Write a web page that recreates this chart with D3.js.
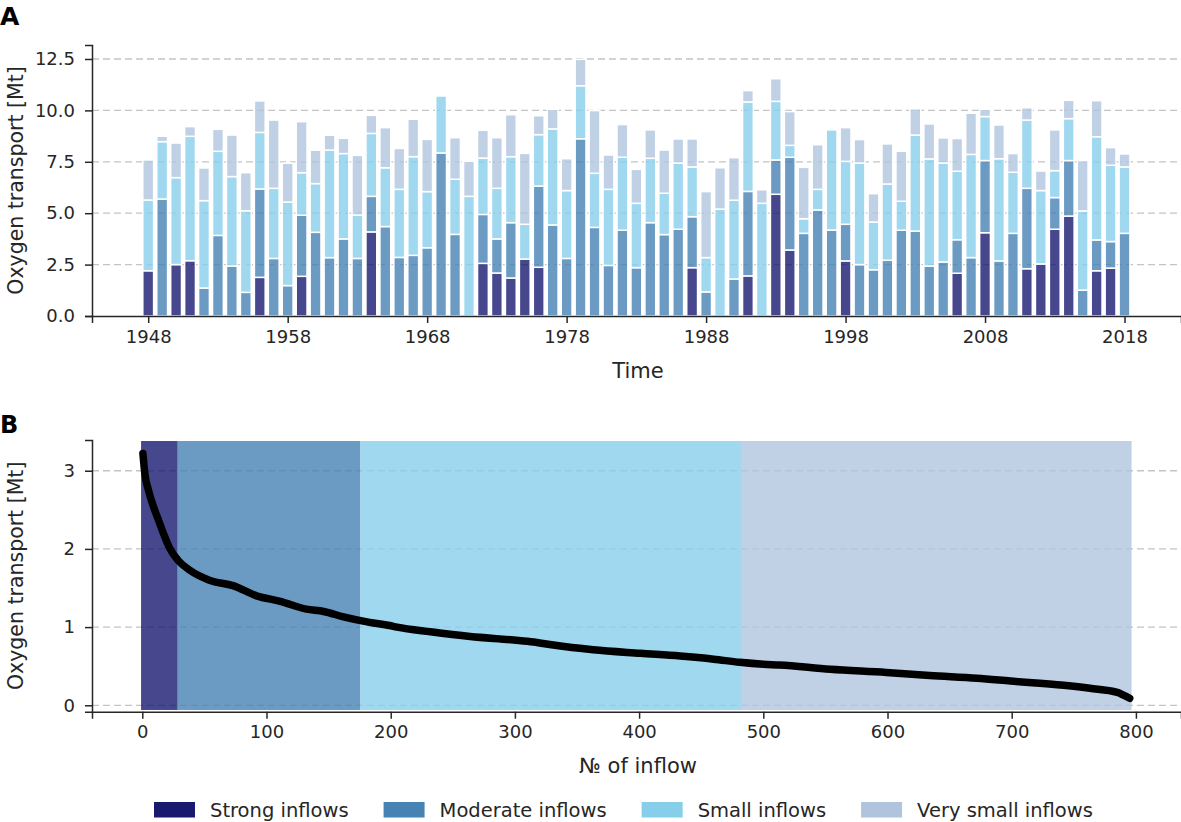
<!DOCTYPE html>
<html>
<head>
<meta charset="utf-8">
<script src="https://cdnjs.cloudflare.com/ajax/libs/d3/7.8.5/d3.min.js"></script>
<style>
  body { margin: 0; background: #fff; }
  svg { font-family: "DejaVu Sans", sans-serif; }
</style>
</head>
<body>
<div id="chart"></div>
<script>
// ---- data ----
var years = [1948, 1949, 1950, 1951, 1952, 1953, 1954, 1955, 1956, 1957,
             1958, 1959, 1960, 1961, 1962, 1963, 1964, 1965, 1966, 1967,
             1968, 1969, 1970, 1971, 1972, 1973, 1974, 1975, 1976, 1977,
             1978, 1979, 1980, 1981, 1982, 1983, 1984, 1985, 1986, 1987,
             1988, 1989, 1990, 1991, 1992, 1993, 1994, 1995, 1996, 1997,
             1998, 1999, 2000, 2001, 2002, 2003, 2004, 2005, 2006, 2007,
             2008, 2009, 2010, 2011, 2012, 2013, 2014, 2015, 2016, 2017,
             2018];

// oxygen transport [Mt] per year and inflow class
var strong   = [2.20, 0, 2.50, 2.69, 0, 0, 0, 0, 1.88, 0,
                0, 1.93, 0, 0, 0, 0, 4.09, 0, 0, 0,
                0, 0, 0, 0, 2.56, 2.09, 1.85, 2.77, 2.37, 0,
                0, 0, 0, 0, 0, 0, 0, 0, 0, 2.35,
                0, 0, 0, 1.95, 0, 5.92, 3.21, 0, 0, 0,
                2.68, 0, 0, 0, 0, 0, 0, 0, 2.08, 0,
                4.05, 0, 0, 2.30, 2.53, 4.22, 4.86, 0, 2.20, 2.33,
                0];
var moderate = [0, 5.69, 0, 0, 1.36, 3.92, 2.43, 1.15, 4.30, 2.80,
                1.48, 2.97, 4.07, 2.84, 3.75, 2.80, 1.73, 4.35, 2.85, 2.95,
                3.32, 7.93, 3.97, 0, 2.38, 1.66, 2.69, 0, 3.95, 4.43,
                2.80, 8.62, 4.31, 2.46, 4.17, 2.35, 4.54, 3.96, 4.22, 2.48,
                1.17, 0, 1.80, 4.11, 0, 1.67, 4.51, 4.02, 5.16, 4.18,
                1.78, 2.50, 2.25, 2.71, 4.17, 4.13, 2.43, 2.63, 1.63, 2.84,
                3.51, 2.68, 4.02, 3.91, 0, 1.54, 2.70, 1.26, 1.50, 1.29,
                4.02];
var small    = [3.44, 2.79, 4.23, 6.05, 4.25, 4.09, 4.35, 3.97, 2.75, 3.41,
                4.06, 2.07, 2.37, 5.23, 4.15, 2.11, 3.06, 2.86, 3.31, 4.80,
                2.73, 2.77, 2.68, 5.82, 2.74, 2.46, 3.21, 1.69, 2.50, 4.67,
                3.30, 2.58, 2.63, 3.70, 3.55, 3.13, 3.13, 2.01, 3.22, 2.42,
                1.67, 5.20, 3.83, 4.35, 5.48, 2.85, 0.58, 0.71, 1.00, 4.87,
                3.06, 4.94, 2.32, 3.71, 1.41, 4.67, 5.21, 4.81, 3.33, 5.02,
                2.14, 4.97, 2.97, 3.32, 3.57, 1.31, 2.04, 3.85, 5.02, 3.71,
                3.23];
var verySmall = [1.95, 0.26, 1.68, 0.47, 1.59, 1.07, 2.02, 1.85, 1.53, 3.32,
                 1.89, 2.48, 1.62, 0.72, 0.74, 2.90, 0.88, 1.95, 1.99, 1.82,
                 2.54, 0, 2.02, 1.70, 1.35, 2.46, 2.04, 3.45, 0.92, 0.95,
                 1.55, 1.28, 3.05, 1.67, 1.59, 1.65, 1.38, 2.10, 1.17, 1.36,
                 3.21, 2.01, 2.07, 0.55, 0.66, 1.10, 1.64, 2.50, 2.17, 0,
                 1.64, 1.14, 1.38, 1.95, 2.43, 1.28, 1.70, 1.22, 1.59, 2.00,
                 0.35, 1.64, 0.91, 0.60, 0.95, 1.98, 0.89, 2.45, 1.75, 0.86,
                 0.63];

// sorted single inflows (panel B)
var inflowRank   = [0.5, 2, 5, 9, 13, 17, 22, 29, 38, 54, 73, 92, 111, 132, 146, 162,
                    183, 199, 205, 232, 264, 299, 315, 331, 363, 401, 433, 460, 481,
                    500, 513, 554, 599, 634, 672, 699, 742, 763, 785, 790, 795];
var inflowOxygen = [3.22, 2.97, 2.75, 2.54, 2.37, 2.20, 2.01, 1.85, 1.73, 1.60, 1.53, 1.40,
                    1.33, 1.23, 1.20, 1.13, 1.06, 1.02, 1.00, 0.94, 0.88, 0.835, 0.81,
                    0.77, 0.71, 0.665, 0.63, 0.59, 0.55, 0.525, 0.515, 0.46, 0.42,
                    0.38, 0.345, 0.31, 0.255, 0.217, 0.166, 0.13, 0.09];

// class boundaries along the inflow number axis
var classEdges = [-1, 28.5, 175.5, 482, 796.5];

var classNames  = ["Strong inflows", "Moderate inflows", "Small inflows", "Very small inflows"];
var classKeys   = ["strong", "moderate", "small", "verySmall"];
var classColors = ["#191970", "#4682b4", "#87ceeb", "#b0c4de"];

var xTicksA = [1948, 1958, 1968, 1978, 1988, 1998, 2008, 2018];
var yTicksA = [0, 2.5, 5, 7.5, 10, 12.5];
var xTicksB = [0, 100, 200, 300, 400, 500, 600, 700, 800];
var yTicksB = [0, 1, 2, 3];

// ---- layout ----
var W = 1181, H = 822;
var panelA = {left: 92, right: 1181, top: 45, bottom: 316};
var panelB = {left: 92, right: 1181, top: 440, bottom: 711.7};
var ink = "#262626";
var font = "DejaVu Sans";

var svg = d3.select("#chart").append("svg")
    .attr("width", W)
    .attr("height", H)
    .attr("font-family", font);

// build table for the stack
var table = years.map(function(y, i) {
  return {year: y, strong: strong[i], moderate: moderate[i], small: small[i], verySmall: verySmall[i]};
});

var color = d3.scaleOrdinal().domain(classKeys).range(classColors);

function styleAxis(g) {
  g.attr("font-family", font).attr("font-size", 18);
  g.select(".domain").attr("stroke", ink).attr("stroke-width", 1.5);
  g.selectAll(".tick line").attr("stroke", ink).attr("stroke-width", 1.5);
  g.selectAll(".tick text").attr("fill", ink);
}

function grid(g, yScale, ticks, x0, x1) {
  g.selectAll("line")
    .data(ticks)
    .enter().append("line")
      .attr("x1", x0)
      .attr("x2", x1)
      .attr("y1", function(d) { return yScale(d); })
      .attr("y2", function(d) { return yScale(d); })
      .attr("stroke", "#c4c4c4")
      .attr("stroke-width", 1.3)
      .attr("stroke-dasharray", "7,4");
}

// ================= Panel A =================
var xA = d3.scaleLinear().domain([1943.97, 2022.05]).range([panelA.left, panelA.right]);
var yA = d3.scaleLinear().domain([0, 13.18]).range([panelA.bottom, panelA.top]);
var barW = (xA(1949) - xA(1948)) * 0.775;

grid(svg.append("g"), yA, yTicksA.slice(1), panelA.left, panelA.right);

var series = d3.stack().keys(classKeys)(table);

svg.append("g")
  .selectAll("g")
  .data(series)
  .enter().append("g")
    .attr("fill", function(d) { return color(d.key); })
    .attr("fill-opacity", 0.8)
  .selectAll("rect")
  .data(function(d) { return d.filter(function(p) { return p[1] - p[0] > 0; }); })
  .enter().append("rect")
    .attr("x", function(d) { return xA(d.data.year) - barW / 2; })
    .attr("width", barW)
    .attr("y", function(d) { return yA(d[1]); })
    .attr("height", function(d) { return yA(d[0]) - yA(d[1]); })
    .attr("stroke", "#fff")
    .attr("stroke-width", 1.5);

svg.append("g")
    .attr("transform", "translate(0," + panelA.bottom + ")")
    .call(d3.axisBottom(xA).tickValues(xTicksA).tickFormat(d3.format("d")).tickSizeOuter(0).tickSize(7).tickPadding(7))
    .call(styleAxis);

svg.append("g")
    .attr("transform", "translate(" + panelA.left + ",0)")
    .call(d3.axisLeft(yA).tickValues(yTicksA).tickFormat(d3.format(".1f")).tickSizeOuter(0).tickSize(7).tickPadding(10))
    .call(styleAxis);

svg.append("text")
    .attr("x", 638)
    .attr("y", 378)
    .attr("text-anchor", "middle")
    .attr("font-size", 21)
    .attr("fill", ink)
    .text("Time");

svg.append("text")
    .attr("transform", "translate(23," + (panelA.top + panelA.bottom) / 2 + ") rotate(-90)")
    .attr("text-anchor", "middle")
    .attr("font-size", 20.5)
    .attr("fill", ink)
    .text("Oxygen transport [Mt]");

svg.append("text")
    .attr("x", 0).attr("y", 25)
    .attr("font-size", 25).attr("font-weight", "bold")
    .attr("fill", "#000")
    .text("A");

// ================= Panel B =================
var xB = d3.scaleLinear().domain([-40.5, 836.3]).range([panelB.left, panelB.right]);
var yB = d3.scaleLinear().domain([-0.082, 3.393]).range([panelB.bottom, panelB.top]);

grid(svg.append("g"), yB, yTicksB, panelB.left, panelB.right);

svg.append("g")
  .selectAll("rect")
  .data(classNames)
  .enter().append("rect")
    .attr("x", function(d, i) { return xB(classEdges[i]); })
    .attr("width", function(d, i) { return xB(classEdges[i + 1]) - xB(classEdges[i]); })
    .attr("y", yB(3.38))
    .attr("height", yB(-0.06) - yB(3.38))
    .attr("fill", function(d, i) { return classColors[i]; })
    .attr("fill-opacity", 0.8);

var inflowPts = inflowRank.map(function(r, i) { return [r, inflowOxygen[i]]; });

svg.append("path")
    .datum(inflowPts)
    .attr("fill", "none")
    .attr("stroke", "#000")
    .attr("stroke-width", 7.5)
    .attr("stroke-linecap", "round")
    .attr("stroke-linejoin", "round")
    .attr("d", d3.line()
      .curve(d3.curveMonotoneX)
      .x(function(d) { return xB(d[0]); })
      .y(function(d) { return yB(d[1]); }));

svg.append("g")
    .attr("transform", "translate(0," + panelB.bottom + ")")
    .call(d3.axisBottom(xB).tickValues(xTicksB).tickFormat(d3.format("d")).tickSizeOuter(0).tickSize(7).tickPadding(7))
    .call(styleAxis);

svg.append("g")
    .attr("transform", "translate(" + panelB.left + ",0)")
    .call(d3.axisLeft(yB).tickValues(yTicksB).tickFormat(d3.format("d")).tickSizeOuter(0).tickSize(7).tickPadding(10))
    .call(styleAxis);

svg.append("text")
    .attr("x", 638)
    .attr("y", 773)
    .attr("text-anchor", "middle")
    .attr("font-size", 21)
    .attr("fill", ink)
    .text("№ of inflow");

svg.append("text")
    .attr("transform", "translate(23," + (panelB.top + panelB.bottom) / 2 + ") rotate(-90)")
    .attr("text-anchor", "middle")
    .attr("font-size", 20.5)
    .attr("fill", ink)
    .text("Oxygen transport [Mt]");

svg.append("text")
    .attr("x", 0).attr("y", 433)
    .attr("font-size", 24).attr("font-weight", "bold")
    .attr("fill", "#000")
    .text("B");

// ================= Legend =================
// entries laid out left to right, each one after the previous label
var legend = svg.append("g");
var cursor = 154;
classNames.forEach(function(name, i) {
  var item = legend.append("g").attr("transform", "translate(" + cursor + ",802)");
  item.append("rect")
      .attr("width", 41)
      .attr("height", 15.5)
      .attr("fill", classColors[i]);
  var label = item.append("text")
      .attr("x", 56)
      .attr("y", 15)
      .attr("font-size", 19.5)
      .attr("fill", ink)
      .text(name);
  cursor += 56 + label.node().getComputedTextLength() + 35;
});
</script>
</body>
</html>
